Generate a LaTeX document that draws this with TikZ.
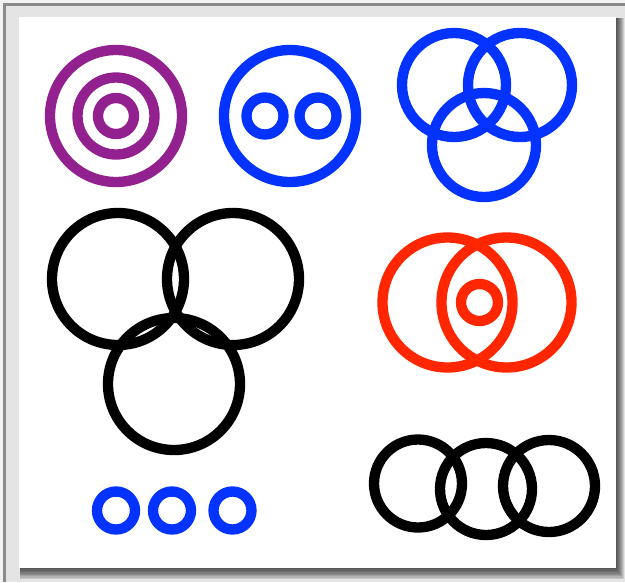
\documentclass[tikz,border=0pt]{standalone}
\usepackage{tikz}
\definecolor{rPurple}{HTML}{93208F}
\definecolor{rBlue}{HTML}{0433FF}
\definecolor{rRed}{HTML}{FF2600}
\definecolor{frameD}{HTML}{8A8A8A}
\definecolor{frameL}{HTML}{E4E4E4}
\tikzset{
  ring/.style={line width=0.31cm},
  purplering/.style={ring, draw=rPurple},
  bluering/.style={ring, draw=rBlue},
  redring/.style={ring, draw=rRed},
  blackring/.style={ring, draw=black},
}

\begin{document}
\begin{tikzpicture}[x=0.03cm, y=-0.03cm]
  \useasboundingbox (0,0) rectangle (625,582);
  % window frame and shadow
  \fill[white!95!black] (0,0) rectangle (625,582);
  \fill[frameD] (3,3) rectangle (625,582);
  \fill[frameL] (6,6) rectangle (625,582);
  \foreach \k in {1,...,8}
    \fill[black, opacity=0.11] (20,18) rectangle (616+\k,568+1.4*\k);
  \fill[white] (19,17) rectangle (616,568);
  % target
  \foreach \r in {66,38.5,18}
    \draw[purplering] (116,116) circle (\r);
  % face
  \draw[bluering] (290,116) circle (66);
  \foreach \x in {265,318}
    \draw[bluering] (\x,116) circle (18.5);
  % blue venn
  \foreach \x/\y in {454/85, 520/85, 484/145}
    \draw[bluering] (\x,\y) circle (52);
  % black trio
  \foreach \x/\y in {118/279, 233/279, 174/384}
    \draw[blackring] (\x,\y) circle (66);
  % red lens
  \foreach \x in {447.5,506.5}
    \draw[redring] (\x,302.5) circle (65);
  \draw[redring] (479.5,302.5) circle (18.5);
  % small blue row
  \foreach \x in {116,172,232.5}
    \draw[bluering] (\x,510.5) circle (19);
  % black chain
  \foreach \x/\y/\r in {418/483.5/44, 486/489/46, 549/486/46}
    \draw[blackring] (\x,\y) circle (\r);
\end{tikzpicture}
\end{document}
